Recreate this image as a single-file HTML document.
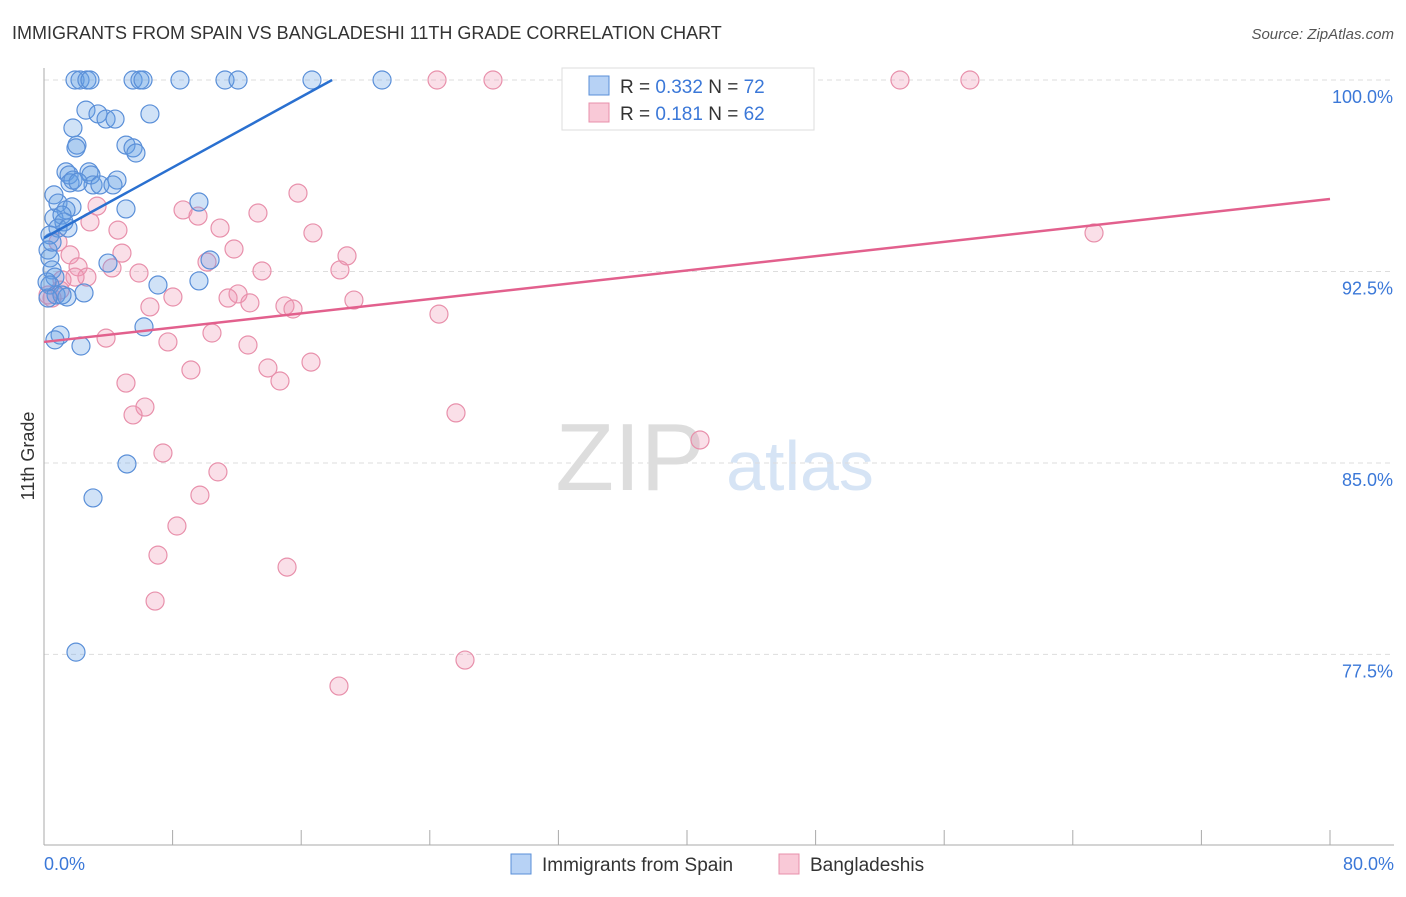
<!DOCTYPE html>
<html><head><meta charset="utf-8"><style>
body{margin:0;background:#fff;font-family:"Liberation Sans",sans-serif;}
svg text{font-family:"Liberation Sans",sans-serif;}
</style></head><body>
<svg id="chart" width="1406" height="892" xmlns="http://www.w3.org/2000/svg">
<text x="12" y="39" font-size="18" fill="#333">IMMIGRANTS FROM SPAIN VS BANGLADESHI 11TH GRADE CORRELATION CHART</text>
<text x="1394" y="39" font-size="15" fill="#555" text-anchor="end" font-style="italic">Source: ZipAtlas.com</text>
<g>
<text x="630" y="490" font-size="96" fill="#ddd" font-family="Liberation Serif" text-anchor="middle">ZIP</text>
<text x="800" y="490" font-size="70" fill="#d6e4f5" text-anchor="middle">atlas</text>
</g>
<g id="grid"></g>
<g id="axes"></g>
<g id="pts"></g>
<g id="lines"></g>
<text transform="translate(34,456) rotate(-90)" font-size="18" fill="#333" text-anchor="middle">11th Grade</text>
<text x="44" y="870" font-size="18" fill="#3b78d8">0.0%</text>
<text x="1394" y="870" font-size="18" fill="#3b78d8" text-anchor="end">80.0%</text>
<g>
<rect x="562" y="68" width="252" height="62" fill="#fff" stroke="#ddd"/>
<rect x="589" y="76" width="20" height="19" fill="#b7d2f5" stroke="#5a8fd8"/>
<rect x="589" y="103" width="20" height="19" fill="#f9c9d7" stroke="#e890ab"/>
<text x="620" y="93" font-size="19" fill="#333">R = <tspan fill="#3b78d8">0.332</tspan>   N = <tspan fill="#3b78d8">72</tspan></text>
<text x="620" y="120" font-size="19" fill="#333">R =  <tspan fill="#3b78d8"> 0.181</tspan>   N = <tspan fill="#3b78d8">62</tspan></text>
</g>
<g>
<rect x="511" y="854" width="20" height="20" fill="#b7d2f5" stroke="#5a8fd8"/>
<text x="542" y="871" font-size="19" fill="#333">Immigrants from Spain</text>
</g>
<g>
<rect x="779" y="854" width="20" height="20" fill="#f9c9d7" stroke="#e890ab"/>
<text x="810" y="871" font-size="19" fill="#333">Bangladeshis</text>
</g>
</svg>
<script>
const yTicks=[100,92.5,85,77.5];
const yTickLabels=["100.0%","92.5%","85.0%","77.5%"];
const xTicks=[0,8,16,24,32,40,48,56,64,72,80];
const bluePx=[[75,80],[80,80],[87,80],[90,80],[133,80],[140,80],[143,80],[180,80],[225,80],[238,80],[312,80],[382,80],[86,110],[98,114],[106,119],[115,119],[150,114],[73,128],[77,145],[76,148],[126,145],[133,148],[136,153],[66,172],[69,175],[89,172],[91,175],[117,180],[93,185],[100,185],[113,185],[70,183],[73,180],[78,182],[54,195],[58,203],[72,207],[66,210],[126,209],[199,202],[54,218],[62,215],[64,222],[58,228],[68,228],[50,235],[48,250],[50,258],[52,270],[55,277],[50,285],[56,295],[67,297],[62,295],[84,293],[158,285],[199,281],[210,260],[108,263],[144,327],[60,335],[55,340],[81,346],[127,464],[93,498],[76,652],[48,298],[47,282],[52,242]];
const pinkPx=[[437,80],[493,80],[900,80],[970,80],[298,193],[97,206],[183,210],[198,216],[258,213],[90,222],[118,230],[220,228],[313,233],[1094,233],[58,242],[234,249],[122,253],[347,256],[70,255],[78,267],[112,268],[207,262],[262,271],[340,270],[139,273],[87,277],[75,277],[62,280],[173,297],[238,294],[228,298],[250,303],[285,306],[293,309],[354,300],[150,307],[439,314],[212,333],[106,338],[168,342],[248,345],[191,370],[268,368],[311,362],[280,381],[126,383],[145,407],[133,415],[456,413],[700,440],[163,453],[218,472],[200,495],[177,526],[158,555],[287,567],[155,601],[465,660],[339,686],[48,295],[60,290],[52,298]];
// convert reading to data values (percent)
const blueX=bluePx.map(p=>+((p[0]-44)/16.075).toFixed(2));
const blueY=bluePx.map(p=>+(100-(p[1]-80)/25.53).toFixed(2));
const pinkX=pinkPx.map(p=>+((p[0]-44)/16.075).toFixed(2));
const pinkY=pinkPx.map(p=>+(100-(p[1]-80)/25.53).toFixed(2));
const blueTrend=[93.81,0.3454];
const pinkTrend=[89.74,0.07];

const X=v=>44+v*16.075, Y=v=>80+(100-v)*25.53;
const NS="http://www.w3.org/2000/svg";
function mk(parent,tag,attrs){const e=document.createElementNS(NS,tag);for(const k in attrs)e.setAttribute(k,attrs[k]);document.getElementById(parent).appendChild(e);return e;}
yTicks.forEach((t,i)=>{
 const l=mk('grid','line',{x1:44,x2:1394,y1:Y(t),y2:Y(t),stroke:'#ddd','stroke-dasharray':'5,4'});
 
 
 const tx=mk('grid','text',{x:1393,y:Y(t)+23,'font-size':18,fill:'#3b78d8','text-anchor':'end'});
 tx.textContent=yTickLabels[i];
 
 
});
const ax=mk('axes','line',{x1:44,x2:44,y1:68,y2:845,stroke:'#aaa'});


const bx=mk('axes','line',{x1:44,x2:1394,y1:845,y2:845,stroke:'#aaa'});


xTicks.forEach(t=>{
 const l=mk('axes','line',{x1:X(t),x2:X(t),y1:830,y2:845,stroke:'#aaa'});
 
 
});
function dots(xs,ys,fill,stroke,name){
 xs.forEach((x,i)=>{
  const c=mk('pts','circle',{cx:X(x),cy:Y(ys[i]),r:9,fill:fill,stroke:stroke,'stroke-width':1.2});
  
  
 });
}
dots(pinkX,pinkY,'rgba(240,150,180,0.3)','#e890ab','bangladeshi-point');
dots(blueX,blueY,'rgba(100,160,230,0.3)','#5a8fd8','spain-point');
const bEnd=(100-blueTrend[0])/blueTrend[1];
const bl=mk('lines','line',{x1:X(0),y1:Y(blueTrend[0]),x2:X(bEnd),y2:Y(100),stroke:'#2a70d0','stroke-width':2.5});


const pl=mk('lines','line',{x1:X(0),y1:Y(pinkTrend[0]),x2:X(80),y2:Y(pinkTrend[0]+80*pinkTrend[1]),stroke:'#e2608d','stroke-width':2.5});


</script>
</body></html>
